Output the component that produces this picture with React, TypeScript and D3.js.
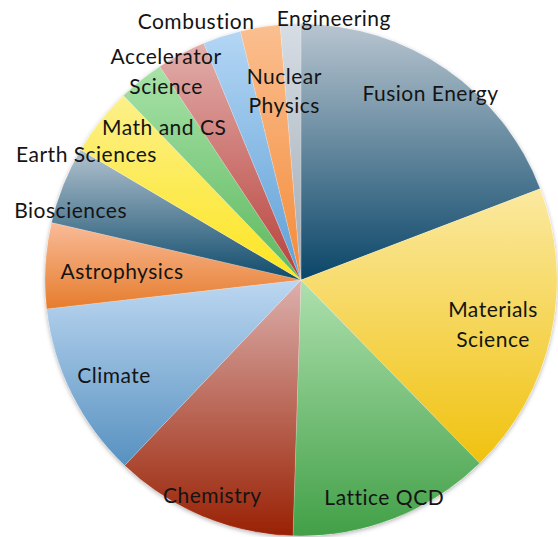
import React from "react";
import * as d3 from "d3";

const categories = [
  "Fusion Energy",
  "Materials Science",
  "Lattice QCD",
  "Chemistry",
  "Climate",
  "Astrophysics",
  "Biosciences",
  "Earth Sciences",
  "Math and CS",
  "Accelerator Science",
  "Combustion",
  "Nuclear Physics",
  "Engineering",
];
const values = [19.2, 18.5, 12.8, 11.6, 11.1, 5.4, 4.9, 4.3, 2.9, 3.1, 2.4, 2.5, 1.3];

// label line breaks
const labelLines = [
  ["Fusion Energy"],
  ["Materials", "Science"],
  ["Lattice QCD"],
  ["Chemistry"],
  ["Climate"],
  ["Astrophysics"],
  ["Biosciences"],
  ["Earth Sciences"],
  ["Math and CS"],
  ["Accelerator", "Science"],
  ["Combustion"],
  ["Nuclear", "Physics"],
  ["Engineering"],
];

// gradient colours (top, bottom)
const topColors = ["#b8c5d0", "#fbe9a0", "#aee0ae", "#dcb0ad", "#bcd7f1", "#f9bb98", "#b3c3cf", "#fcf08a", "#a8e2a8", "#e2aeab", "#b3d6f4", "#fbbf90", "#d6dde4"];
const bottomColors = ["#0a4668", "#f0c20f", "#42a047", "#992104", "#5791c0", "#e67c2c", "#0f4b6c", "#fde520", "#5cb85e", "#b8403a", "#5e9fd6", "#f38a38", "#a0aab4"];

// label placement: radius factor and angle shift (degrees) relative to slice mid-angle
const labelRadius = [0.885, 0.77, 0.91, 0.91, 0.82, 0.70, 0.94, 0.97, 0.80, 0.97, 1.09, 0.74, 1.03];
const labelShift = [0.3, 0.6, 0.3, -0.3, -0.6, -0.7, -5.0, -8.1, -3.2, -5.0, -4.1, 4.1, 9.5];

const W = 558;
const H = 537;
const CX = 301;
const CY = 280;
const R = 256;

export default function App() {
  const pie = d3.pie<number>().sort(null).value((d) => d);
  const arcs = pie(values);
  const arcGen = d3.arc<d3.PieArcDatum<number>>().innerRadius(0).outerRadius(R);
  const lineH = 29.5;

  return (
    <svg
      width={W}
      height={H}
      style={{ position: "absolute", left: 0, top: 0, background: "#fff" }}
      fontFamily="Lato, 'Open Sans', sans-serif"
    >
      <defs>
        {arcs.map((a, i) => (
          <linearGradient key={i} id={`g${i}`} x1="0" y1="0" x2="0" y2="1">
            <stop offset="0" stopColor={topColors[i]} />
            <stop offset="1" stopColor={bottomColors[i]} />
          </linearGradient>
        ))}
        <filter id="sh" x="-10%" y="-10%" width="120%" height="120%">
          <feDropShadow dx="0" dy="1.5" stdDeviation="2" floodColor="#000" floodOpacity="0.3" />
        </filter>
      </defs>
      <g transform={`translate(${CX},${CY})`}>
        <circle r={R} fill="#fff" filter="url(#sh)" />
        {arcs.map((a, i) => (
          <path key={i} d={arcGen(a) || ""} fill={`url(#g${i})`} stroke="rgba(255,255,255,0.35)" strokeWidth={0.5} />
        ))}
        {arcs.map((a, i) => {
          const mid = (a.startAngle + a.endAngle) / 2 + (labelShift[i] * Math.PI) / 180;
          const rr = R * labelRadius[i];
          const x = rr * Math.sin(mid);
          const y = -rr * Math.cos(mid);
          const lines = labelLines[i];
          const y0 = y - ((lines.length - 1) * lineH) / 2;
          return (
            <text key={i} textAnchor="middle" fontSize={21} letterSpacing={0.5} fill="#141414">
              {lines.map((l, j) => (
                <tspan key={j} x={x} y={y0 + j * lineH} dy="0.35em">
                  {l}
                </tspan>
              ))}
            </text>
          );
        })}
      </g>
    </svg>
  );
}
